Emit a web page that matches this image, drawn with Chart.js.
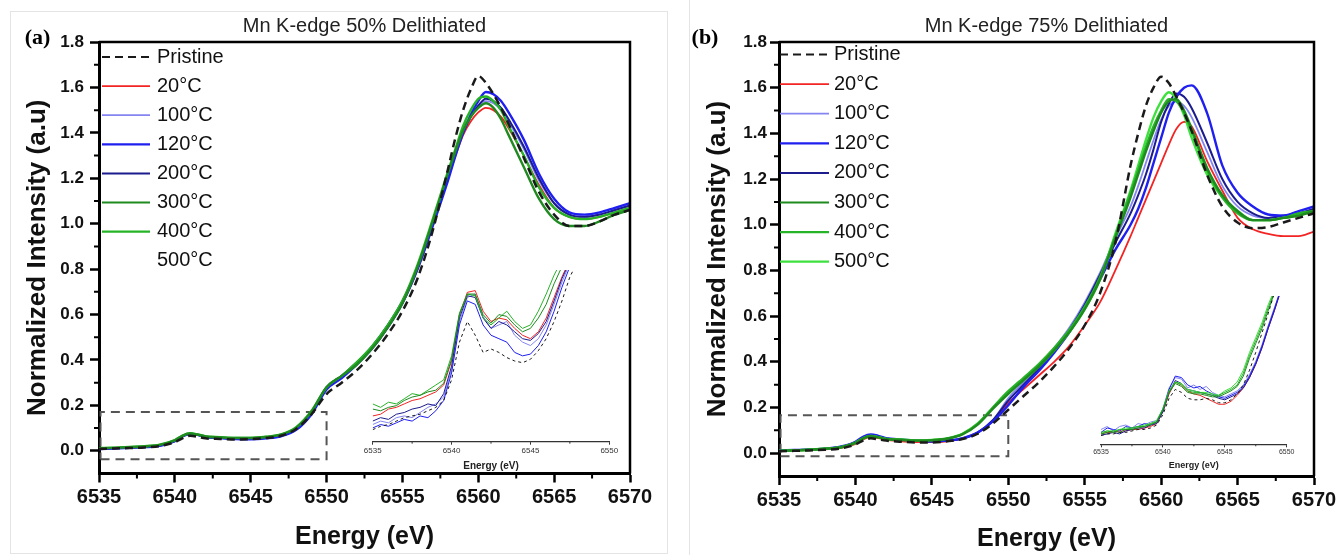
<!DOCTYPE html>
<html>
<head>
<meta charset="utf-8">
<script src="https://cdn.jsdelivr.net/npm/chart.js@4.4.1/dist/chart.umd.min.js"></script>
<style>
    html, body { margin: 0; padding: 0; background: #fff; }
    #wrap { position: relative; width: 1343px; height: 555px; overflow: hidden; }
    canvas { position: absolute; }
    .frame { position: absolute; box-sizing: border-box; }
</style>
</head>
<body>
<div id="wrap">
    <div class="frame" style="left:10px;top:11px;width:658px;height:543px;border:1px solid #e4e4e4"></div>
    <div class="frame" style="left:689px;top:0;width:1px;height:555px;background:#e4e4e4"></div>
    <canvas id="chart-a" width="672" height="555" style="left:0;top:0"></canvas>
    <canvas id="chart-b" width="663" height="555" style="left:680px;top:0"></canvas>
    <canvas id="inset-a" width="300" height="212" style="left:330px;top:262px"></canvas>
    <canvas id="inset-b" width="250" height="190" style="left:1060px;top:288px"></canvas>
</div>
<script>
// ─── Data ─────────────────────────────────────────────────────────────────

const seriesLabels = ['Pristine', '20°C', '100°C', '120°C', '200°C', '300°C', '400°C', '500°C'];

const xTicks = [6535, 6540, 6545, 6550, 6555, 6560, 6565, 6570];
const xMinor = [6537.5, 6542.5, 6547.5, 6552.5, 6557.5, 6562.5, 6567.5];
const yTicks = [0.0, 0.2, 0.4, 0.6, 0.8, 1.0, 1.2, 1.4, 1.6, 1.8];
const yMinor = [0.1, 0.3, 0.5, 0.7, 0.9, 1.1, 1.3, 1.5, 1.7];
const insetTicks = [6535, 6540, 6545, 6550];
const insetMinor = [6537.5, 6542.5, 6547.5];

const energy = [6535, 6536, 6537, 6538, 6539, 6540, 6540.5, 6541, 6541.5, 6542, 6543, 6544, 6545, 6546, 6547, 6548, 6549,
    6550, 6551, 6552, 6553, 6554, 6555, 6556, 6557, 6558, 6558.5, 6559, 6559.5, 6560, 6560.5, 6561, 6561.5, 6562,
    6563, 6564, 6565, 6566, 6567, 6568, 6569, 6570];

// panel (a) - 50% delithiated
const aPristine = [0.008, 0.010, 0.012, 0.015, 0.021, 0.038, 0.055, 0.066, 0.062, 0.055, 0.052, 0.050, 0.051, 0.056, 0.066, 0.096, 0.160,
    0.25, 0.30, 0.355, 0.425, 0.51, 0.615, 0.76, 0.97, 1.24, 1.38, 1.50, 1.59, 1.65, 1.62, 1.57, 1.51, 1.44, 1.29, 1.14, 1.04, 0.99, 0.99, 1.01, 1.04, 1.06];
const a20 = [0.010, 0.012, 0.015, 0.018, 0.024, 0.044, 0.066, 0.076, 0.071, 0.062, 0.058, 0.055, 0.054, 0.059, 0.069, 0.100, 0.170,
    0.275, 0.33, 0.39, 0.45, 0.54, 0.65, 0.80, 0.99, 1.20, 1.30, 1.39, 1.45, 1.49, 1.51, 1.50, 1.47, 1.42, 1.30, 1.17, 1.07, 1.03, 1.02, 1.03, 1.05, 1.07];
const a100 = [0.009, 0.011, 0.014, 0.017, 0.023, 0.043, 0.064, 0.074, 0.069, 0.061, 0.057, 0.054, 0.054, 0.058, 0.068, 0.098, 0.168,
    0.28, 0.33, 0.39, 0.46, 0.55, 0.66, 0.81, 1.00, 1.21, 1.31, 1.40, 1.47, 1.52, 1.54, 1.53, 1.50, 1.45, 1.33, 1.19, 1.09, 1.04, 1.03, 1.04, 1.06, 1.08];
const a120 = [0.008, 0.010, 0.013, 0.016, 0.022, 0.042, 0.063, 0.074, 0.070, 0.060, 0.056, 0.052, 0.051, 0.055, 0.064, 0.092, 0.160,
    0.27, 0.32, 0.38, 0.45, 0.54, 0.65, 0.80, 0.99, 1.19, 1.30, 1.40, 1.48, 1.54, 1.58, 1.57, 1.54, 1.49, 1.37, 1.22, 1.11, 1.05, 1.04, 1.05, 1.07, 1.09];
const a200 = [0.009, 0.011, 0.014, 0.017, 0.023, 0.043, 0.064, 0.075, 0.070, 0.061, 0.057, 0.053, 0.052, 0.056, 0.066, 0.095, 0.165,
    0.28, 0.33, 0.39, 0.46, 0.55, 0.66, 0.81, 1.00, 1.21, 1.31, 1.40, 1.47, 1.52, 1.55, 1.54, 1.51, 1.46, 1.34, 1.20, 1.09, 1.04, 1.03, 1.04, 1.06, 1.08];
const a300 = [0.011, 0.013, 0.016, 0.019, 0.026, 0.046, 0.066, 0.076, 0.071, 0.063, 0.059, 0.056, 0.056, 0.061, 0.071, 0.102, 0.172,
    0.28, 0.33, 0.38, 0.45, 0.54, 0.65, 0.81, 1.01, 1.22, 1.32, 1.41, 1.47, 1.51, 1.53, 1.51, 1.46, 1.39, 1.25, 1.11, 1.02, 0.99, 0.99, 1.01, 1.04, 1.06];
const a400 = [0.012, 0.014, 0.017, 0.020, 0.027, 0.047, 0.067, 0.077, 0.072, 0.064, 0.060, 0.057, 0.057, 0.062, 0.072, 0.104, 0.175,
    0.28, 0.33, 0.39, 0.46, 0.55, 0.66, 0.82, 1.02, 1.23, 1.33, 1.43, 1.50, 1.55, 1.56, 1.54, 1.50, 1.43, 1.30, 1.16, 1.07, 1.03, 1.02, 1.03, 1.05, 1.07];
const a500 = [];   // listed in the legend, no trace drawn

// panel (b) - 75% delithiated
const bPristine = [0.008, 0.010, 0.012, 0.015, 0.020, 0.038, 0.055, 0.065, 0.060, 0.055, 0.050, 0.047, 0.047, 0.052, 0.062, 0.085, 0.130,
    0.19, 0.25, 0.31, 0.38, 0.46, 0.56, 0.70, 0.92, 1.26, 1.40, 1.52, 1.60, 1.648, 1.62, 1.56, 1.49, 1.41, 1.22, 1.08, 1.01, 0.985, 0.99, 1.01, 1.03, 1.05];
const b20 = [0.010, 0.012, 0.014, 0.017, 0.022, 0.040, 0.060, 0.070, 0.066, 0.058, 0.052, 0.048, 0.048, 0.052, 0.065, 0.090, 0.140,
    0.22, 0.28, 0.34, 0.40, 0.47, 0.56, 0.66, 0.80, 0.95, 1.03, 1.11, 1.19, 1.27, 1.35, 1.42, 1.45, 1.43, 1.28, 1.15, 1.03, 0.98, 0.96, 0.95, 0.95, 0.97];
const b100 = [0.012, 0.014, 0.016, 0.019, 0.026, 0.046, 0.068, 0.078, 0.073, 0.064, 0.058, 0.054, 0.052, 0.056, 0.066, 0.092, 0.145,
    0.24, 0.31, 0.38, 0.46, 0.55, 0.66, 0.79, 0.94, 1.08, 1.17, 1.27, 1.37, 1.46, 1.52, 1.54, 1.52, 1.47, 1.32, 1.17, 1.08, 1.04, 1.03, 1.04, 1.05, 1.07];
const b120 = [0.012, 0.014, 0.016, 0.020, 0.028, 0.050, 0.072, 0.082, 0.076, 0.066, 0.060, 0.055, 0.052, 0.055, 0.065, 0.090, 0.140,
    0.21, 0.29, 0.36, 0.44, 0.53, 0.64, 0.76, 0.89, 1.00, 1.07, 1.16, 1.27, 1.38, 1.49, 1.56, 1.60, 1.61, 1.49, 1.26, 1.14, 1.08, 1.045, 1.04, 1.06, 1.08];
const b200 = [0.011, 0.013, 0.015, 0.019, 0.027, 0.048, 0.070, 0.080, 0.074, 0.064, 0.059, 0.054, 0.051, 0.054, 0.064, 0.090, 0.145,
    0.23, 0.30, 0.37, 0.45, 0.54, 0.65, 0.78, 0.92, 1.05, 1.13, 1.22, 1.33, 1.45, 1.53, 1.575, 1.56, 1.51, 1.36, 1.20, 1.10, 1.05, 1.03, 1.04, 1.05, 1.07];
const b300 = [0.010, 0.012, 0.015, 0.019, 0.025, 0.045, 0.065, 0.074, 0.069, 0.061, 0.058, 0.054, 0.056, 0.063, 0.082, 0.125, 0.195,
    0.26, 0.32, 0.38, 0.45, 0.53, 0.63, 0.76, 0.94, 1.12, 1.22, 1.32, 1.41, 1.49, 1.54, 1.55, 1.50, 1.42, 1.25, 1.13, 1.06, 1.02, 1.02, 1.03, 1.04, 1.06];
const b400 = [0.010, 0.012, 0.015, 0.020, 0.025, 0.045, 0.065, 0.075, 0.070, 0.062, 0.059, 0.055, 0.057, 0.064, 0.084, 0.128, 0.200,
    0.27, 0.33, 0.39, 0.46, 0.54, 0.64, 0.77, 0.95, 1.14, 1.24, 1.34, 1.43, 1.50, 1.55, 1.54, 1.49, 1.41, 1.24, 1.12, 1.05, 1.02, 1.02, 1.03, 1.05, 1.06];
const b500 = [0.010, 0.012, 0.015, 0.020, 0.025, 0.045, 0.065, 0.075, 0.070, 0.062, 0.060, 0.055, 0.058, 0.065, 0.085, 0.130, 0.200,
    0.27, 0.32, 0.38, 0.45, 0.53, 0.63, 0.76, 0.96, 1.15, 1.26, 1.37, 1.47, 1.54, 1.58, 1.55, 1.48, 1.38, 1.22, 1.12, 1.06, 1.02, 1.02, 1.03, 1.04, 1.06];

// dashed zoom boxes (energy, intensity corners)
const boxAX = [6535.1, 6550, 6550, 6535.1, 6535.1];
const boxAY = [-0.037, -0.037, 0.171, 0.171, -0.037];
const boxBX = [6535.1, 6550, 6550, 6535.1, 6535.1];
const boxBY = [-0.013, -0.013, 0.166, 0.166, -0.013];

// insets: pre-edge, own normalisation (0..1 of inset height)
const insetEnergyA = [6535, 6535.5, 6536, 6536.5, 6537, 6537.5, 6538, 6538.5, 6539, 6539.5, 6540, 6540.5, 6541, 6541.5,
    6542, 6542.5, 6543, 6543.5, 6544, 6544.5, 6545, 6545.5, 6546, 6546.5, 6547, 6547.5, 6548];
const iaPristine = [0.07, 0.09, 0.10, 0.12, 0.14, 0.15, 0.16, 0.18, 0.20, 0.24, 0.36, 0.58, 0.70, 0.62, 0.52, 0.54, 0.52, 0.49, 0.47, 0.46, 0.48, 0.53, 0.60, 0.70, 0.82, 0.96, 1.05];
const ia20 = [0.15, 0.16, 0.19, 0.20, 0.22, 0.24, 0.25, 0.27, 0.29, 0.33, 0.47, 0.74, 0.87, 0.88, 0.76, 0.70, 0.72, 0.71, 0.66, 0.62, 0.60, 0.64, 0.72, 0.84, 0.96, 1.06, 1.10];
const ia100 = [0.10, 0.12, 0.11, 0.14, 0.15, 0.14, 0.17, 0.20, 0.22, 0.26, 0.42, 0.70, 0.84, 0.86, 0.73, 0.66, 0.68, 0.70, 0.62, 0.58, 0.56, 0.60, 0.68, 0.80, 0.93, 1.04, 1.08];
const ia120 = [0.08, 0.10, 0.09, 0.11, 0.13, 0.12, 0.15, 0.14, 0.18, 0.24, 0.40, 0.68, 0.82, 0.80, 0.68, 0.62, 0.60, 0.58, 0.52, 0.50, 0.51, 0.56, 0.64, 0.76, 0.90, 1.02, 1.06];
const ia200 = [0.12, 0.14, 0.13, 0.16, 0.17, 0.19, 0.20, 0.22, 0.21, 0.28, 0.44, 0.72, 0.85, 0.84, 0.72, 0.66, 0.70, 0.68, 0.64, 0.60, 0.59, 0.63, 0.70, 0.82, 0.95, 1.05, 1.08];
const ia300 = [0.19, 0.18, 0.20, 0.21, 0.24, 0.26, 0.27, 0.29, 0.30, 0.34, 0.48, 0.74, 0.86, 0.86, 0.74, 0.69, 0.74, 0.73, 0.68, 0.64, 0.66, 0.72, 0.80, 0.92, 1.02, 1.08, 1.10];
const ia400 = [0.22, 0.20, 0.23, 0.22, 0.25, 0.28, 0.27, 0.30, 0.33, 0.36, 0.50, 0.75, 0.86, 0.85, 0.72, 0.68, 0.72, 0.76, 0.70, 0.66, 0.68, 0.76, 0.86, 0.97, 1.06, 1.10, 1.12];
const ia500 = [];

const insetEnergyB = [6535, 6535.5, 6536, 6536.5, 6537, 6537.5, 6538, 6538.5, 6539, 6539.5, 6540, 6540.5, 6541, 6541.5,
    6542, 6542.5, 6543, 6543.5, 6544, 6544.5, 6545, 6545.5, 6546, 6546.5, 6547, 6547.5, 6548, 6548.5, 6549, 6549.5];
const ibPristine = [0.06, 0.07, 0.07, 0.08, 0.08, 0.09, 0.10, 0.10, 0.11, 0.13, 0.20, 0.31, 0.37, 0.35, 0.31, 0.30, 0.30, 0.31, 0.30, 0.28, 0.28, 0.30, 0.34, 0.40, 0.50, 0.62, 0.75, 0.88, 1.02, null];
const ib20 = [0.07, 0.08, 0.08, 0.09, 0.09, 0.10, 0.10, 0.11, 0.12, 0.14, 0.22, 0.34, 0.42, 0.40, 0.36, 0.34, 0.33, 0.31, 0.29, 0.27, 0.27, 0.29, 0.33, 0.38, 0.45, 0.54, 0.65, 0.78, 0.90, 1.03];
const ib100 = [0.10, 0.12, 0.09, 0.12, 0.13, 0.11, 0.14, 0.13, 0.15, 0.16, 0.24, 0.38, 0.45, 0.44, 0.38, 0.40, 0.37, 0.39, 0.35, 0.33, 0.32, 0.34, 0.36, 0.40, 0.47, 0.56, 0.67, 0.80, 0.92, 1.04];
const ib120 = [0.08, 0.11, 0.10, 0.09, 0.12, 0.11, 0.12, 0.14, 0.13, 0.15, 0.23, 0.37, 0.46, 0.45, 0.40, 0.38, 0.39, 0.36, 0.34, 0.32, 0.31, 0.33, 0.35, 0.39, 0.46, 0.55, 0.66, 0.79, 0.91, 1.04];
const ib200 = [0.06, 0.07, 0.08, 0.07, 0.09, 0.10, 0.11, 0.11, 0.13, 0.14, 0.22, 0.35, 0.43, 0.41, 0.37, 0.36, 0.35, 0.34, 0.33, 0.31, 0.30, 0.32, 0.34, 0.38, 0.45, 0.54, 0.65, 0.78, 0.90, 1.03];
const ib300 = [0.07, 0.08, 0.09, 0.08, 0.10, 0.10, 0.11, 0.12, 0.13, 0.15, 0.23, 0.35, 0.41, 0.39, 0.35, 0.34, 0.34, 0.33, 0.32, 0.32, 0.34, 0.36, 0.39, 0.46, 0.58, 0.68, 0.78, 0.90, 1.02, null];
const ib400 = [0.08, 0.09, 0.08, 0.10, 0.10, 0.11, 0.12, 0.12, 0.14, 0.15, 0.24, 0.36, 0.42, 0.40, 0.36, 0.35, 0.35, 0.34, 0.33, 0.33, 0.35, 0.37, 0.40, 0.48, 0.60, 0.70, 0.80, 0.92, 1.03, null];
const ib500 = [0.07, 0.09, 0.09, 0.10, 0.11, 0.11, 0.12, 0.13, 0.14, 0.16, 0.24, 0.36, 0.42, 0.41, 0.37, 0.36, 0.35, 0.35, 0.34, 0.33, 0.36, 0.38, 0.42, 0.50, 0.62, 0.72, 0.82, 0.94, 1.04, null];

// ─── Styles ───────────────────────────────────────────────────────────────

const lineStyles = [
    { color: '#1a1a1a', width: 2.5, dash: [8, 5], order: 0 },
    { color: '#f22424', width: 1.8, order: 4 },
    { color: '#8585f2', width: 1.8, order: 3 },
    { color: '#1f1ff0', width: 2.4, order: 2 },
    { color: '#1c1c8e', width: 2.0, order: 2 },
    { color: '#1f8a1f', width: 2.4, order: 1 },
    { color: '#27b327', width: 2.4, order: 1 },
    { color: '#3ee03e', width: 2.4, order: 1 }
];

Chart.defaults.font.family = '"Liberation Sans", Arial, sans-serif';
Chart.defaults.color = '#111';

const toPoints = (xs, ys) => ys.map((y, i) => ({ x: xs[i], y: y }));

// ─── Decorations: frame, minor ticks, legend, title, panel tag ───────────

const decor = {
    id: 'decor',
    afterDatasetsDraw(chart, args, o) {
        const { ctx, chartArea: a } = chart;
        const xs = chart.scales.x, ys = chart.scales.y;
        ctx.save();

        if (o.frame) {
            ctx.strokeStyle = '#000';
            ctx.lineWidth = 2.5;
            ctx.beginPath();
            ctx.moveTo(a.left, a.top);
            ctx.lineTo(a.right, a.top);
            ctx.lineTo(a.right, a.bottom);
            ctx.stroke();
        }

        ctx.strokeStyle = o.minorColor || '#000';
        ctx.lineWidth = o.minorWidth || 2;
        ctx.beginPath();
        (o.minorX || []).forEach(v => {
            const px = xs.getPixelForValue(v);
            ctx.moveTo(px, a.bottom);
            ctx.lineTo(px, a.bottom + o.minorLen);
        });
        if (ys.options.display) {
            (o.minorY || []).forEach(v => {
                const py = ys.getPixelForValue(v);
                ctx.moveTo(a.left, py);
                ctx.lineTo(a.left - o.minorLen, py);
            });
        }
        ctx.stroke();

        if (o.legend) {
            const L = o.legend;
            ctx.font = '20px "Liberation Sans", Arial, sans-serif';
            ctx.textBaseline = 'middle';
            ctx.textAlign = 'left';
            chart.data.datasets.forEach((ds, i) => {
                if (ds.isBox) return;
                const y = L.top + i * L.step;
                if (ds.data.length) {
                    ctx.strokeStyle = ds.borderColor;
                    ctx.lineWidth = Math.min(ds.borderWidth, 2.2);
                    ctx.setLineDash(ds.borderDash || []);
                    ctx.beginPath();
                    ctx.moveTo(a.left + L.x0, y);
                    ctx.lineTo(a.left + L.x1, y);
                    ctx.stroke();
                    ctx.setLineDash([]);
                }
                ctx.fillStyle = '#111';
                ctx.fillText(ds.label, a.left + L.tx, y);
            });
        }

        if (o.title) {
            ctx.font = '20px "Liberation Sans", Arial, sans-serif';
            ctx.fillStyle = '#222';
            ctx.textAlign = 'center';
            ctx.textBaseline = 'middle';
            ctx.fillText(o.title, (a.left + a.right) / 2, o.titleY);
        }
        if (o.tag) {
            ctx.font = 'bold 22px "Liberation Serif", "Times New Roman", serif';
            ctx.fillStyle = '#000';
            ctx.textAlign = 'center';
            ctx.textBaseline = 'middle';
            ctx.fillText(o.tag, o.tagX, o.tagY);
        }
        ctx.restore();
    }
};

// ─── Main panels ─────────────────────────────────────────────────────────

function renderPanel(id, series, boxX, boxY, p) {
    const datasets = series.map((vals, i) => ({
        label: seriesLabels[i],
        data: toPoints(energy, vals),
        borderColor: lineStyles[i].color,
        borderWidth: lineStyles[i].width,
        borderDash: lineStyles[i].dash || [],
        order: lineStyles[i].order,
        pointRadius: 0,
        cubicInterpolationMode: 'monotone',
        fill: false
    }));
    datasets.push({
        label: '',
        isBox: true,
        data: toPoints(boxX, boxY),
        borderColor: '#555',
        borderWidth: 2,
        borderDash: [9, 6],
        pointRadius: 0,
        tension: 0,
        order: 5
    });

    return new Chart(document.getElementById(id), {
        type: 'line',
        data: { datasets },
        options: {
            responsive: false,
            animation: false,
            events: [],
            layout: { padding: { left: 0, top: 42, right: p.right, bottom: 0 } },
            plugins: {
                legend: { display: false },
                tooltip: { enabled: false },
                decor: {
                    frame: true,
                    minorX: xMinor, minorY: yMinor, minorLen: 5, minorWidth: 2,
                    legend: p.legend,
                    title: p.title, titleY: 26,
                    tag: p.tag, tagX: p.tagX, tagY: 38
                }
            },
            scales: {
                x: {
                    type: 'linear', min: 6535, max: 6570,
                    afterBuildTicks: s => { s.ticks = xTicks.map(v => ({ value: v })); },
                    afterFit: s => { s.height = p.xHeight; },
                    ticks: { font: { size: 20, weight: 'bold' }, color: '#111', padding: 3, autoSkip: false, maxRotation: 0, callback: v => String(v) },
                    grid: { drawOnChartArea: false, tickLength: 9, tickWidth: 2.5, tickColor: '#000' },
                    border: { color: '#000', width: 3 },
                    title: { display: true, text: 'Energy (eV)', font: { size: 25, weight: 'bold' }, color: '#111', padding: { top: 0, bottom: p.xTitlePad } }
                },
                y: {
                    min: -0.1, max: 1.8,
                    afterBuildTicks: s => { s.ticks = yTicks.map(v => ({ value: v })); },
                    afterFit: s => { s.width = 99; },
                    ticks: { font: { size: 17, weight: 'bold' }, color: '#111', padding: p.yTickPad, callback: v => v.toFixed(1) },
                    grid: { drawOnChartArea: false, tickLength: 9, tickWidth: 2.5, tickColor: '#000' },
                    border: { color: '#000', width: 3 },
                    title: { display: true, text: 'Normalized Intensity (a.u)', font: { size: 26, weight: 'bold' }, color: '#111', padding: { top: 22, bottom: 0 } }
                }
            }
        },
        plugins: [decor]
    });
}

// ─── Insets ──────────────────────────────────────────────────────────────

function renderInset(id, xs, series, p) {
    const datasets = series.map((vals, i) => ({
        label: seriesLabels[i],
        data: toPoints(xs, vals),
        borderColor: lineStyles[i].color,
        borderWidth: 1,
        borderDash: i === 0 ? [3, 3] : [],
        order: lineStyles[i].order,
        pointRadius: 0,
        tension: 0,
        spanGaps: false
    }));

    return new Chart(document.getElementById(id), {
        type: 'line',
        data: { datasets },
        options: {
            responsive: false,
            animation: false,
            events: [],
            layout: { padding: { left: p.left, top: p.top, right: p.right, bottom: 0 } },
            plugins: {
                legend: { display: false },
                tooltip: { enabled: false },
                decor: { minorX: insetMinor, minorLen: 2, minorWidth: 1, minorColor: '#333' }
            },
            scales: {
                x: {
                    type: 'linear', min: 6535, max: 6550,
                    afterBuildTicks: s => { s.ticks = insetTicks.map(v => ({ value: v })); },
                    afterFit: s => { s.height = p.xHeight; },
                    ticks: { font: { size: p.tickSize }, color: '#333', padding: 1, autoSkip: false, maxRotation: 0, callback: v => String(v) },
                    grid: { drawOnChartArea: false, tickLength: 3, tickWidth: 1, tickColor: '#333' },
                    border: { color: '#333', width: 1.2 },
                    title: { display: true, text: 'Energy (eV)', font: { size: p.titleSize, weight: 'bold' }, color: '#222', padding: { top: 0, bottom: p.titlePad } }
                },
                y: { display: false, min: 0, max: 1 }
            }
        },
        plugins: [decor]
    });
}

renderPanel('chart-a', [aPristine, a20, a100, a120, a200, a300, a400, a500], boxAX, boxAY, {
    right: 42, xHeight: 81.5, xTitlePad: 3, yTickPad: 6,
    title: 'Mn K-edge 50% Delithiated', tag: '(a)', tagX: 37.5,
    legend: { top: 57, step: 29.1, x0: 3, x1: 51, tx: 58 }
});

renderPanel('chart-b', [bPristine, b20, b100, b120, b200, b300, b400, b500], boxBX, boxBY, {
    right: 29, xHeight: 79, xTitlePad: 1, yTickPad: 3,
    title: 'Mn K-edge 75% Delithiated', tag: '(b)', tagX: 25,
    legend: { top: 54.5, step: 29.6, x0: 1, x1: 50, tx: 55 }
});

renderInset('inset-a', insetEnergyA, [iaPristine, ia20, ia100, ia120, ia200, ia300, ia400, ia500], {
    left: 42.7, right: 20.7, top: 8, xHeight: 32.3, tickSize: 8, titleSize: 10, titlePad: 2
});

renderInset('inset-b', insetEnergyB, [ibPristine, ib20, ib100, ib120, ib200, ib300, ib400, ib500], {
    left: 41, right: 23.3, top: 8, xHeight: 33.7, tickSize: 7, titleSize: 9, titlePad: 7
});
</script>
</body>
</html>
